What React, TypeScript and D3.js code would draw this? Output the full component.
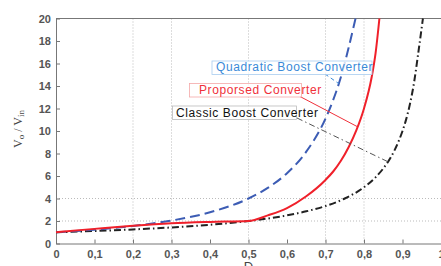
import React, { useEffect, useRef } from 'react';
import * as d3 from 'd3';

// duty cycle D and gain Vo/Vin
const classicD = [0, 0.1, 0.2, 0.3, 0.4, 0.5, 0.55, 0.6, 0.65, 0.7, 0.75, 0.8, 0.83, 0.85, 0.87, 0.89, 0.9, 0.91, 0.92, 0.93, 0.94, 0.953];
const classicV = [1, 1.11, 1.25, 1.43, 1.67, 2, 2.22, 2.5, 2.86, 3.33, 4, 5, 5.88, 6.67, 7.69, 9.09, 10, 11.1, 12.5, 14.3, 16.7, 20];

const quadD = [0, 0.1, 0.2, 0.3, 0.4, 0.5, 0.55, 0.6, 0.65, 0.7, 0.72, 0.74, 0.76, 0.778];
const quadV = [1, 1.23, 1.56, 2.04, 2.78, 4, 4.94, 6.25, 8.16, 11.1, 12.76, 14.8, 17.4, 20];

const propD = [0, 0.1, 0.2, 0.3, 0.4, 0.5, 0.55, 0.6, 0.65, 0.7, 0.72, 0.74, 0.76, 0.78, 0.8, 0.82, 0.83, 0.84];
const propV = [1, 1.3, 1.58, 1.8, 1.92, 2.0, 2.5, 3.15, 4.2, 5.65, 6.4, 7.35, 8.55, 10.05, 12.0, 14.8, 16.9, 20];

const xTicks = [0, 0.1, 0.2, 0.3, 0.4, 0.5, 0.6, 0.7, 0.8, 0.9, 1];
const yTicks = [0, 2, 4, 6, 8, 10, 12, 14, 16, 18, 20];
const gridX = [0.2, 0.3, 0.5, 0.7, 0.8];
const gridY = [2, 4];

function App() {
  const ref = useRef<SVGSVGElement>(null);

  useEffect(() => {
    if (!ref.current) return;
    const svg = d3.select(ref.current);
    svg.selectAll('*').remove();

    const left = 56, right = 441, top = 18.5, bottom = 243.5;
    const x = d3.scaleLinear().domain([0, 1]).range([left, right]);
    const y = d3.scaleLinear().domain([0, 20]).range([bottom, top]);
    const font = "'Liberation Sans', Arial, sans-serif";

    // grid
    svg.append('g').selectAll('line').data(gridX).enter().append('line')
      .attr('x1', d => x(d)).attr('x2', d => x(d)).attr('y1', top).attr('y2', bottom)
      .attr('stroke', '#aaa').attr('stroke-width', 0.8).attr('stroke-dasharray', '1,2');
    svg.append('g').selectAll('line').data(gridY).enter().append('line')
      .attr('x1', left).attr('x2', right).attr('y1', d => y(d)).attr('y2', d => y(d))
      .attr('stroke', '#aaa').attr('stroke-width', 0.8).attr('stroke-dasharray', '1,2');

    // frame
    svg.append('line').attr('x1', left).attr('x2', right).attr('y1', top).attr('y2', top)
      .attr('stroke', '#777').attr('stroke-width', 1);

    const xAxis = svg.append('g').attr('transform', `translate(0,${bottom})`)
      .call(d3.axisBottom(x).tickValues(xTicks).tickSizeInner(-4).tickSizeOuter(0)
        .tickFormat(d => (d as number) === 0 || (d as number) === 1 ? String(d) : d3.format('.1f')(d as number).replace('.', ',')));
    xAxis.select('.domain').attr('stroke', '#777');
    xAxis.selectAll('.tick line').attr('stroke', '#777');
    xAxis.selectAll('.tick text').attr('dy', '0.95em').attr('y', 4)
      .style('font-family', font).style('font-size', '11px').style('font-weight', 'bold').attr('fill', '#555');

    const yAxis = svg.append('g').attr('transform', `translate(${left},0)`)
      .call(d3.axisLeft(y).tickValues(yTicks).tickSizeInner(-4).tickSizeOuter(0));
    yAxis.select('.domain').attr('stroke', '#777');
    yAxis.selectAll('.tick line').attr('stroke', '#777');
    yAxis.selectAll('.tick text').attr('x', -5)
      .style('font-family', font).style('font-size', '11px').style('font-weight', 'bold').attr('fill', '#555');

    const line = d3.line<[number, number]>().x(d => x(d[0])).y(d => y(d[1])).curve(d3.curveMonotoneX);
    const plot = svg.append('g');

    plot.append('path').datum(classicD.map((d, i) => [d, classicV[i]] as [number, number]))
      .attr('d', line).attr('fill', 'none').attr('stroke', '#222').attr('stroke-width', 2)
      .attr('stroke-dasharray', '7,3,1.5,3');
    plot.append('path').datum(quadD.map((d, i) => [d, quadV[i]] as [number, number]))
      .attr('d', line).attr('fill', 'none').attr('stroke', '#3c5cb4').attr('stroke-width', 2)
      .attr('stroke-dasharray', '10,5');
    plot.append('path').datum(propD.map((d, i) => [d, propV[i]] as [number, number]))
      .attr('d', line).attr('fill', 'none').attr('stroke', '#f0202a').attr('stroke-width', 2);

    // annotations: label box, text, pointer to curve at (D, V)
    const notes = [
      { text: 'Quadratic Boost Converter', color: '#3a8ad8', box: '#a8ccef', tx: 216, ty: 71, bx: 212, by: 61, bw: 160, ptr: [325, 74], at: [0.735, 14.2], dash: '4,3' },
      { text: 'Proporsed Converter', color: '#f0303a', box: '#f4a8a8', tx: 199, ty: 93.5, bx: 189.5, by: 83.5, bw: 112, ptr: [300, 96.5], at: [0.782, 10.4], dash: '' },
      { text: 'Classic Boost Converter', color: '#111', box: '#bbb', tx: 176, ty: 116.5, bx: 172.5, by: 106, bw: 124, ptr: [297, 118], at: [0.862, 7.27], dash: '6,3,1.5,3' },
    ];
    notes.forEach(n => {
      svg.append('line').attr('x1', n.ptr[0]).attr('y1', n.ptr[1])
        .attr('x2', x(n.at[0])).attr('y2', y(n.at[1]))
        .attr('stroke', n.color === '#111' ? '#555' : n.color).attr('stroke-width', 1)
        .attr('stroke-dasharray', n.dash);
      svg.append('rect').attr('x', n.bx).attr('y', n.by).attr('width', n.bw).attr('height', 13.5)
        .attr('fill', 'white').attr('fill-opacity', 0.8).attr('stroke', n.box).attr('stroke-width', 0.8);
      svg.append('text').attr('x', n.tx).attr('y', n.ty).text(n.text)
        .style('font-family', font).style('font-size', '12px').style('letter-spacing', '0.6px')
        .attr('fill', n.color);
    });

    // axis labels
    const yl = svg.append('text').attr('transform', 'translate(22,129) rotate(-90)')
      .attr('text-anchor', 'middle').style('font-family', "'Liberation Serif', serif")
      .style('font-size', '12px').attr('fill', '#444');
    yl.append('tspan').text('V');
    yl.append('tspan').text('o').style('font-size', '9px').attr('dy', 2);
    yl.append('tspan').text(' / V').attr('dy', -2);
    yl.append('tspan').text('in').style('font-size', '9px').attr('dy', 2);

    svg.append('text').attr('x', x(0.5)).attr('y', 271).attr('text-anchor', 'middle')
      .style('font-family', font).style('font-size', '13px').attr('fill', '#444').text('D');
  }, []);

  return (
    <svg ref={ref} width={441} height={266}
      style={{ position: 'absolute', left: 0, top: 0, background: 'white' }} />
  );
}

export default App;
